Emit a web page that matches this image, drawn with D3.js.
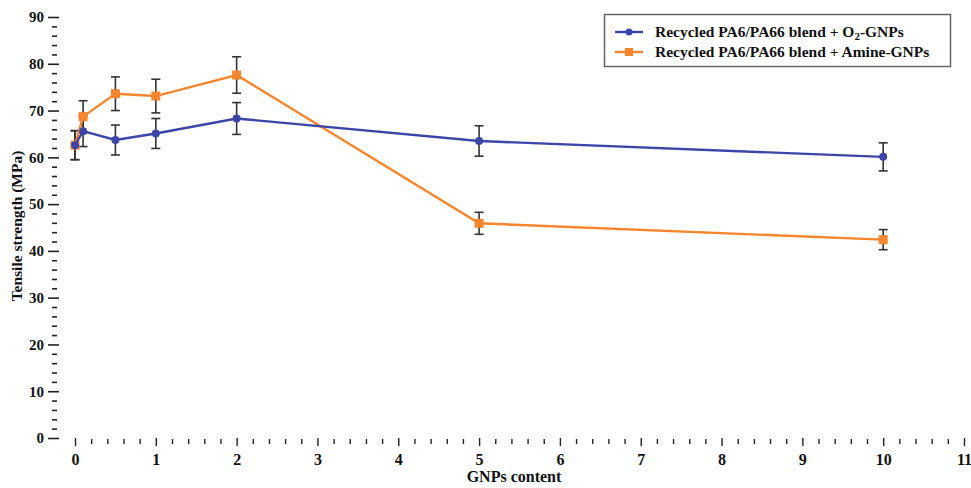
<!DOCTYPE html>
<html>
<head>
<meta charset="utf-8">
<script src="https://cdn.jsdelivr.net/npm/d3@7/dist/d3.min.js"></script>
<style>
  html, body { margin: 0; padding: 0; background: #fff; }
  svg { display: block; }
  text { font-family: "Liberation Serif", "Times New Roman", serif; font-weight: bold; fill: #111; }
</style>
</head>
<body>
<svg id="chart" width="971" height="488"></svg>
<script>
// GNPs content (wt%)
const content = [0, 0.1, 0.5, 1, 2, 5, 10];

// Tensile strength (MPa) and standard deviations
const o2Strength    = [62.6, 65.6, 63.7, 65.1, 68.3, 63.5, 60.1];
const o2Error       = [3.1, 3.3, 3.2, 3.2, 3.4, 3.25, 3.0];
const amineStrength = [62.6, 68.7, 73.6, 73.1, 77.6, 45.9, 42.4];
const amineError    = [3.1, 3.4, 3.6, 3.6, 3.9, 2.35, 2.15];

const xTicks = [0, 1, 2, 3, 4, 5, 6, 7, 8, 9, 10, 11];
const yTicks = [0, 10, 20, 30, 40, 50, 60, 70, 80, 90];

const seriesNames = ["Recycled PA6/PA66 blend + O", "Recycled PA6/PA66 blend + Amine-GNPs"];
const colors = ["#3b46a8", "#f6852c"];

const svg = d3.select("#chart");

const x = d3.scaleLinear().domain([0, 11]).range([75, 964]);
const y = d3.scaleLinear().domain([0, 90]).range([438, 17]);

// Y axis: tick marks only, majors every 10, minors every 2
const yMinor = d3.range(0, 90.01, 2).filter(v => v % 10 !== 0);
const yAxis = d3.axisLeft(y).tickValues(yTicks).tickSize(11).tickPadding(4);
const gy = svg.append("g").attr("transform", "translate(59,0)").call(yAxis);
gy.select(".domain").remove();
gy.selectAll(".tick line").attr("stroke", "#222").attr("stroke-width", 1.6);
gy.selectAll(".tick text").attr("font-size", 15).attr("font-family", "Liberation Serif").attr("font-weight", "bold").attr("fill", "#111");
const yMinorAxis = d3.axisLeft(y).tickValues(yMinor).tickSize(5).tickFormat("");
const gym = svg.append("g").attr("transform", "translate(57,0)").call(yMinorAxis);
gym.select(".domain").remove();
gym.selectAll(".tick line").attr("stroke", "#222").attr("stroke-width", 1.6);

// X axis: tick marks only, majors every 1, minors every 0.2
const xMinor = d3.range(0, 11.001, 0.2).map(v => +v.toFixed(1)).filter(v => Math.abs(v - Math.round(v)) > 1e-6);
const xAxis = d3.axisBottom(x).tickValues(xTicks).tickSize(8).tickPadding(8);
const gx = svg.append("g").attr("transform", "translate(0,438)").call(xAxis);
gx.select(".domain").remove();
gx.selectAll(".tick line").attr("stroke", "#222").attr("stroke-width", 1.4);
gx.selectAll(".tick text").attr("font-size", 16).attr("font-family", "Liberation Serif").attr("font-weight", "bold").attr("fill", "#111");
const xMinorAxis = d3.axisBottom(x).tickValues(xMinor).tickSize(5).tickFormat("");
const gxm = svg.append("g").attr("transform", "translate(0,439)").call(xMinorAxis);
gxm.select(".domain").remove();
gxm.selectAll(".tick line").attr("stroke", "#222").attr("stroke-width", 1.4);

// Axis titles
svg.append("text")
  .attr("x", 514).attr("y", 482)
  .attr("text-anchor", "middle")
  .attr("font-size", 16)
  .text("GNPs content");
svg.append("text")
  .attr("transform", "translate(22,226) rotate(-90)")
  .attr("text-anchor", "middle")
  .attr("font-size", 15.5)
  .text("Tensile strength (MPa)");

const series = [
  { vals: o2Strength, errs: o2Error, color: colors[0], marker: "circle" },
  { vals: amineStrength, errs: amineError, color: colors[1], marker: "square" }
];

const line = d3.line().x(d => x(d[0])).y(d => y(d[1]));

// Error bars
series.forEach(s => {
  const g = svg.append("g");
  content.forEach((c, i) => {
    const cx = x(c), lo = y(s.vals[i] - s.errs[i]), hi = y(s.vals[i] + s.errs[i]);
    g.append("line").attr("x1", cx).attr("x2", cx).attr("y1", lo).attr("y2", hi)
      .attr("stroke", "#333").attr("stroke-width", 1.6);
    [lo, hi].forEach(yy => g.append("line")
      .attr("x1", cx - 4.5).attr("x2", cx + 4.5).attr("y1", yy).attr("y2", yy)
      .attr("stroke", "#333").attr("stroke-width", 1.6));
  });
});

// Lines and markers (amine first, O2 on top)
[series[1], series[0]].forEach(s => {
  const pts = content.map((c, i) => [c, s.vals[i]]);
  svg.append("path").datum(pts)
    .attr("d", line).attr("fill", "none")
    .attr("stroke", s.color).attr("stroke-width", 2.4);
  if (s.marker === "circle") {
    svg.append("g").selectAll("circle").data(pts).join("circle")
      .attr("cx", d => x(d[0])).attr("cy", d => y(d[1])).attr("r", 4)
      .attr("fill", s.color);
  } else {
    svg.append("g").selectAll("rect").data(pts).join("rect")
      .attr("x", d => x(d[0]) - 4.5).attr("y", d => y(d[1]) - 4.5)
      .attr("width", 9).attr("height", 9)
      .attr("fill", s.color);
  }
});

// Legend
const lg = svg.append("g");
lg.append("rect").attr("x", 604.5).attr("y", 14.5).attr("width", 346).attr("height", 52)
  .attr("fill", "#fff").attr("stroke", "#666").attr("stroke-width", 1.5);
[0, 1].forEach(i => {
  const ly = 32 + i * 20;
  lg.append("line").attr("x1", 615).attr("x2", 643).attr("y1", ly).attr("y2", ly)
    .attr("stroke", colors[i]).attr("stroke-width", 2.4);
  if (i === 0) {
    lg.append("circle").attr("cx", 629).attr("cy", ly).attr("r", 3.5).attr("fill", colors[i]);
  } else {
    lg.append("rect").attr("x", 625).attr("y", ly - 4).attr("width", 8).attr("height", 8).attr("fill", colors[i]);
  }
  const t = lg.append("text").attr("x", 655).attr("y", ly + 5).attr("font-size", 15.5);
  if (i === 0) {
    t.append("tspan").text(seriesNames[0]);
    t.append("tspan").attr("font-size", 11).attr("dy", 3).text("2");
    t.append("tspan").attr("dy", -3).text("-GNPs");
  } else {
    t.text(seriesNames[1]);
  }
});
</script>
</body>
</html>
